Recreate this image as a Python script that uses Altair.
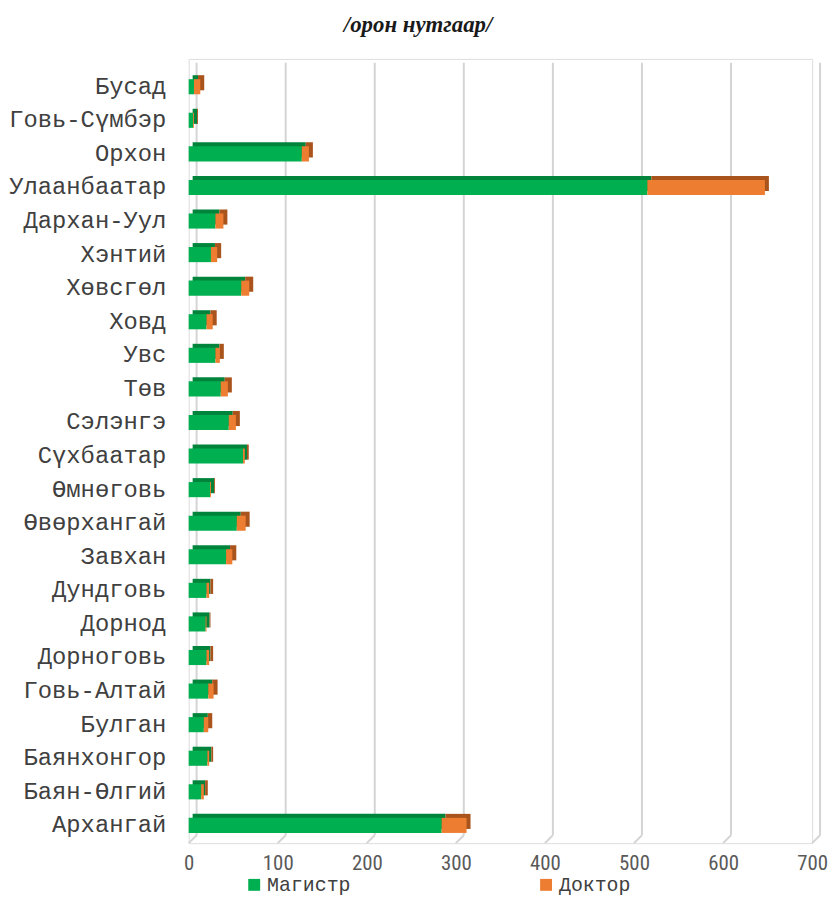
import altair as alt
import pandas as pd

categories = ["Бусад", "Говь-Сүмбэр", "Орхон", "Улаанбаатар", "Дархан-Уул", "Хэнтий",
              "Хөвсгөл", "Ховд", "Увс", "Төв", "Сэлэнгэ", "Сүхбаатар", "Өмнөговь",
              "Өвөрхангай", "Завхан", "Дундговь", "Дорнод", "Дорноговь", "Говь-Алтай",
              "Булган", "Баянхонгор", "Баян-Өлгий\u00a0", "Архангай"]
magistr = [6, 5, 127, 515, 30, 25, 59, 20, 30, 36, 45, 61, 24, 54, 42, 20, 19, 20, 22, 17, 21, 14, 284]
doktor = [7, 1, 8, 132, 9, 7, 9, 7, 5, 8, 8, 2, 1, 10, 7, 3, 1, 3, 6, 5, 2, 3, 28]
series_names = ["Магистр", "Доктор"]
front_colors = ["#00B050", "#ED7D31"]
shade_colors = ["#00843C", "#A9541C"]
tick_values = [0, 100, 200, 300, 400, 500, 600, 700]
title_text = "/орон нутгаар/"

rows = []
for c, m, d in zip(categories, magistr, doktor):
    rows.append({"category": c, "series": series_names[0], "value": m, "ord": 0})
    rows.append({"category": c, "series": series_names[1], "value": d, "ord": 1})
df = pd.DataFrame(rows)
grid_df = pd.DataFrame({"tick": tick_values})

W, H = 628, 790
GRID_TOP = 4
GRID_BOTTOM = 782

x_scale = alt.Scale(domain=[0, 700], nice=False)
x_axis = alt.Axis(values=tick_values, title=None, grid=False, domain=False, ticks=False,
                  labelFontSize=21, labelColor="#595959", labelPadding=10, labelFlush=False,
                  labelFont="Liberation Sans Narrow, Roboto Condensed, Liberation Sans")
y_enc = alt.Y("category:N", sort=categories,
              scale=alt.Scale(paddingInner=0.55, paddingOuter=0.454, align=0.665),
              axis=alt.Axis(title=None, labelFont="Liberation Mono", labelFontSize=24,
                            labelColor="#404040", labelPadding=23, ticks=False,
                            domain=False, grid=False, labelLimit=300))

grid_v = alt.Chart(grid_df).mark_rule(color="#D4D4D4", strokeWidth=2, xOffset=8).encode(
    x=alt.X("tick:Q", scale=x_scale, axis=x_axis),
    y=alt.value(GRID_TOP), y2=alt.value(GRID_BOTTOM))
grid_s = alt.Chart(grid_df).mark_rule(color="#D4D4D4", strokeWidth=2, xOffset=8, x2Offset=0,
                                      yOffset=0, y2Offset=8).encode(
    x=alt.X("tick:Q", scale=x_scale, axis=x_axis), x2=alt.X2("tick"),
    y=alt.value(GRID_BOTTOM), y2=alt.value(GRID_BOTTOM))

back = alt.Chart(df).mark_bar(xOffset=4, yOffset=-4).encode(
    x=alt.X("value:Q", stack="zero", scale=x_scale, axis=x_axis),
    y=y_enc,
    color=alt.Color("series:N", sort=series_names,
                    scale=alt.Scale(domain=series_names, range=shade_colors), legend=None),
    order=alt.Order("ord:Q"))

front = alt.Chart(df).mark_bar().encode(
    x=alt.X("value:Q", stack="zero", scale=x_scale, axis=x_axis),
    y=y_enc,
    color=alt.Color("series:N", sort=series_names,
                    scale=alt.Scale(domain=series_names, range=front_colors),
                    legend=alt.Legend(orient="none", legendX=56, legendY=822,
                                      direction="horizontal", title=None,
                                      symbolType="square", symbolSize=144,
                                      symbolStrokeWidth=0, labelFont="Liberation Mono",
                                      labelFontSize=20, labelColor="#404040",
                                      labelOffset=3, columnPadding=186)),
    order=alt.Order("ord:Q"))

chart = alt.layer(grid_v, grid_s, back, front).resolve_scale(color="independent").properties(
    width=W, height=H,
    title=alt.TitleParams(title_text, font="Liberation Serif", fontSize=23, fontStyle="italic",
                          fontWeight="bold", color="#1a1a1a", anchor="middle", frame="bounds",
                          offset=22),
    autosize=alt.AutoSizeParams(type="none"),
    padding={"left": 182, "top": 48, "right": 17, "bottom": 54},
).configure_view(stroke=None).configure(background="white")

chart.save("out.html", embed_options={"renderer": "svg", "actions": False})
